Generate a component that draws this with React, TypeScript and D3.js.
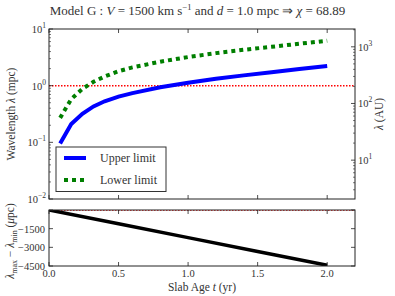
import React from "react";
import * as d3 from "d3";

const T = [0.08, 0.16, 0.24, 0.32, 0.4, 0.5, 0.6, 0.8, 1.0, 1.2, 1.4, 1.6, 1.8, 2.0];
const UPPER = [0.095, 0.21, 0.32, 0.43, 0.53, 0.64, 0.74, 0.94, 1.13, 1.33, 1.52, 1.73, 1.96, 2.22];
const LOWER = [0.27, 0.58, 0.88, 1.17, 1.45, 1.8, 2.1, 2.65, 3.2, 3.75, 4.3, 4.85, 5.5, 6.2];
const T_DIFF = [0.0, 0.5, 1.0, 1.5, 2.0];
const DIFF = [0, -1110, -2220, -3330, -4440];
const X_TICKS = [0, 0.5, 1.0, 1.5, 2.0];
const X_TICK_LABELS = ["0.0", "0.5", "1.0", "1.5", "2.0"];
const DIFF_TICKS = [0, -1500, -3000, -4500];
const DIFF_TICK_LABELS = ["0", "\u22121500", "\u22123000", "\u22124500"];
const LEFT_DECADES = [-2, -1, 0, 1];
const RIGHT_DECADES = [1, 2, 3];
const AU_PER_MPC = 206.265;
const REF_LAMBDA = 1;
const REF_DIFF = 0;

const FONT = '"Liberation Serif", "Liberation Sans", Arial, sans-serif';
const FS = 10.5;

export default function App() {
  const L = 49, R = 355, T1 = 29, B1 = 199, T2 = 210, B2 = 266;
  const x = d3.scaleLinear().domain([0, 2.2]).range([L, R]);
  const y = d3.scaleLog().domain([0.01, 10]).range([B1, T1]);
  const yAU = d3.scaleLog().domain([0.01 * AU_PER_MPC, 10 * AU_PER_MPC]).range([B1, T1]);
  const y2 = d3.scaleLinear().domain([-4500, 0]).range([B2, T2]);

  const lineTop = d3.line<number>().x((_, i) => x(T[i])).y((d) => y(d));
  const lineDiff = d3.line<number>().x((_, i) => x(T_DIFF[i])).y((d) => y2(d));

  const axisColor = "#222";
  const ticks: any[] = [];
  X_TICKS.forEach((t, i) => {
    const xx = x(t);
    ticks.push(<line key={"xb1" + i} x1={xx} x2={xx} y1={B1} y2={B1 - 4} stroke={axisColor} strokeWidth={0.8} />);
    ticks.push(<line key={"xt1" + i} x1={xx} x2={xx} y1={T1} y2={T1 + 4} stroke={axisColor} strokeWidth={0.8} />);
    ticks.push(<line key={"xb2" + i} x1={xx} x2={xx} y1={B2} y2={B2 - 4} stroke={axisColor} strokeWidth={0.8} />);
    ticks.push(<line key={"xt2" + i} x1={xx} x2={xx} y1={T2} y2={T2 + 4} stroke={axisColor} strokeWidth={0.8} />);
  });
  LEFT_DECADES.forEach((dec) => {
    const v = Math.pow(10, dec);
    ticks.push(<line key={"lm" + dec} x1={L} x2={L + 4} y1={y(v)} y2={y(v)} stroke={axisColor} strokeWidth={0.8} />);
    if (dec < 1) {
      for (let k = 2; k <= 9; k++) {
        const yy = y(k * v);
        ticks.push(<line key={"ln" + dec + k} x1={L} x2={L + 2} y1={yy} y2={yy} stroke={axisColor} strokeWidth={0.6} />);
      }
    }
  });
  const [auMin, auMax] = yAU.domain();
  for (let dec = 0; dec <= 3; dec++) {
    const v = Math.pow(10, dec);
    for (let k = 1; k <= 9; k++) {
      const val = k * v;
      if (val < auMin || val > auMax) continue;
      const yy = yAU(val);
      const major = k === 1;
      ticks.push(<line key={"r" + dec + k} x1={R} x2={R - (major ? 4 : 2)} y1={yy} y2={yy} stroke={axisColor} strokeWidth={major ? 0.8 : 0.6} />);
    }
  }
  DIFF_TICKS.forEach((v, i) => {
    ticks.push(<line key={"dl" + i} x1={L} x2={L + 4} y1={y2(v)} y2={y2(v)} stroke={axisColor} strokeWidth={0.8} />);
    ticks.push(<line key={"dr" + i} x1={R} x2={R - 4} y1={y2(v)} y2={y2(v)} stroke={axisColor} strokeWidth={0.8} />);
  });

  const txt = { fontFamily: FONT, fill: "#333" } as const;

  const sup = (base: string, exp: string, xx: number, yy: number, anchor: string, key: string) => (
    <text key={key} x={xx} y={yy} textAnchor={anchor} style={{ ...txt, fontSize: FS }}>
      {base}
      <tspan style={{ fontSize: 7.5 }} dy={-5}>{exp}</tspan>
    </text>
  );

  return (
    <svg width={395} height={296} style={{ position: "absolute", left: 0, top: 0, background: "#fff" }}>
      <rect x={0} y={0} width={395} height={296} fill="#fff" />
      <text x={197.5} y={15} textAnchor="middle" style={{ ...txt, fontSize: 13 }}>
        Model G  : <tspan fontStyle="italic">V</tspan> = 1500 km s<tspan style={{ fontSize: 8.5 }} dy={-5}>{"\u22121"}</tspan>
        <tspan dy={5}> and </tspan><tspan fontStyle="italic">d</tspan> = 1.0 mpc ⇒ <tspan fontStyle="italic">χ</tspan> = 68.89
      </text>

      <defs>
        <clipPath id="c1"><rect x={L} y={T1} width={R - L} height={B1 - T1} /></clipPath>
        <clipPath id="c2"><rect x={L} y={T2} width={R - L} height={B2 - T2} /></clipPath>
      </defs>
      <g clipPath="url(#c1)">
        <line x1={L} x2={R} y1={y(REF_LAMBDA)} y2={y(REF_LAMBDA)} stroke="#ff0000" strokeWidth={1.5} strokeDasharray="1.5,1.5" />
        <path d={lineTop(UPPER) || ""} fill="none" stroke="#0000ff" strokeWidth={4} />
        <path d={lineTop(LOWER) || ""} fill="none" stroke="#007f00" strokeWidth={4} strokeDasharray="4,4" />
      </g>
      <g clipPath="url(#c2)">
        <line x1={L} x2={R} y1={y2(REF_DIFF)} y2={y2(REF_DIFF)} stroke="#ff0000" strokeWidth={1.5} strokeDasharray="1.5,1.5" />
        <path d={lineDiff(DIFF) || ""} fill="none" stroke="#000" strokeWidth={3.5} />
      </g>
      {ticks}
      <rect x={L} y={T1} width={R - L} height={B1 - T1} fill="none" stroke={axisColor} strokeWidth={1} />
      <rect x={L} y={T2} width={R - L} height={B2 - T2} fill="none" stroke={axisColor} strokeWidth={1} />

      <rect x={56} y={147} width={110} height={44.5} fill="#fff" stroke="#333" strokeWidth={1} />
      <line x1={64} x2={86} y1={158} y2={158} stroke="#0000ff" strokeWidth={4} />
      <line x1={64} x2={88} y1={180} y2={180} stroke="#007f00" strokeWidth={4} strokeDasharray="4,4" />
      <text x={100} y={162} style={{ ...txt, fontSize: 12 }}>Upper limit</text>
      <text x={100} y={184} style={{ ...txt, fontSize: 12 }}>Lower limit</text>

      {LEFT_DECADES.map((dec) => sup("10", dec < 0 ? "\u2212" + Math.abs(dec) : String(dec), 46, y(Math.pow(10, dec)) + 4, "end", "ll" + dec))}
      {RIGHT_DECADES.map((dec) => sup("10", String(dec), 358, yAU(Math.pow(10, dec)) + 4, "start", "rl" + dec))}
      {DIFF_TICKS.map((v, i) => i === 0 ? null : (
        <text key={"dtl" + i} x={45} y={y2(v) + 4} textAnchor="end" style={{ ...txt, fontSize: FS }}>{DIFF_TICK_LABELS[i]}</text>
      ))}
      {X_TICKS.map((t, i) => (
        <text key={"xtl" + i} x={x(t)} y={277} textAnchor="middle" style={{ ...txt, fontSize: FS }}>{X_TICK_LABELS[i]}</text>
      ))}

      <text x={202} y={291} textAnchor="middle" style={{ ...txt, fontSize: 11.5 }}>
        Slab Age <tspan fontStyle="italic">t</tspan> (yr)
      </text>
      <text transform={`translate(15,${(T1 + B1) / 2}) rotate(-90)`} textAnchor="middle" style={{ ...txt, fontSize: 11.5 }}>
        Wavelength <tspan fontStyle="italic">λ</tspan> (mpc)
      </text>
      <text transform={`translate(383,${(T1 + B1) / 2}) rotate(-90)`} textAnchor="middle" style={{ ...txt, fontSize: 11.5 }}>
        <tspan fontStyle="italic">λ</tspan> (AU)
      </text>
      <text transform={`translate(14,${(T2 + B2) / 2 + 3}) rotate(-90)`} textAnchor="middle" style={{ ...txt, fontSize: 11.5 }}>
        <tspan fontStyle="italic">λ</tspan><tspan style={{ fontSize: 8 }} dy={2.5}>max</tspan><tspan dy={-2.5}> − </tspan><tspan fontStyle="italic">λ</tspan><tspan style={{ fontSize: 8 }} dy={2.5}>min</tspan><tspan dy={-2.5}> (</tspan><tspan fontStyle="italic">μ</tspan>pc)
      </text>
    </svg>
  );
}
